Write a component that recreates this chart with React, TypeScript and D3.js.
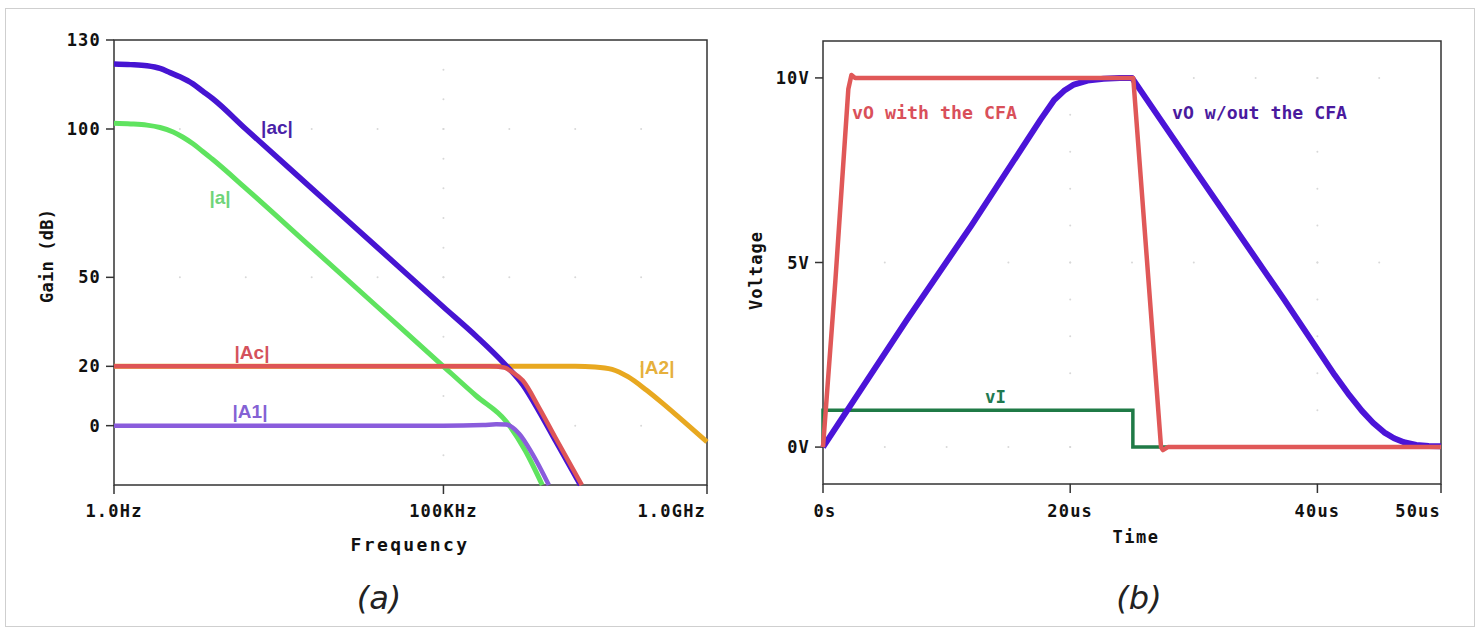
import React, { useRef, useEffect } from "react";
import * as d3 from "d3";

// (a) gain vs frequency, [Hz, dB]
const acPts = [[1, 121.9], [1.8, 121.7], [3.16, 121.3], [5, 120.4], [7.1, 119], [10, 117.6], [15.8, 115.2], [22, 112.8], [31.6, 110.2], [100, 100], [1e3, 80], [1e4, 60], [1e5, 40], [3.2e5, 30], [8.3e5, 21], [1.6e6, 13.8], [2.8e6, 5], [5e6, -5], [1.2e7, -20]];
const aPts = [[1, 101.9], [1.8, 101.7], [3.16, 101.3], [5, 100.5], [7.9, 99], [11, 97.3], [15.8, 95], [22, 92.5], [31.6, 89.7], [100, 80], [1e3, 60], [1e4, 40], [87100, 21.2], [3.16e5, 10], [8.9e5, 1.5], [1.74e6, -8.4], [3.16e6, -20]];
const AcPts = [[1, 20], [1e5, 20], [5e5, 20], [8.3e5, 19.6], [1.12e6, 18], [1.6e6, 15.2], [2.82e6, 6.1], [5e6, -4], [1.26e7, -20]];
const A1Pts = [[1, 0], [1e5, 0], [4e5, 0.2], [6.3e5, 0.5], [8.9e5, 0.4], [1.41e6, -2.7], [2.24e6, -9.5], [3.98e6, -20]];
const A2Pts = [[1, 20], [1e7, 20], [2e7, 19.8], [3.63e7, 19], [6.3e7, 16.5], [1.2e8, 12], [2e8, 8], [3.8e8, 2.7], [1e9, -5.5]];

const gainTicks = [130, 100, 50, 20, 0];
const freqTicks = [1, 1e5, 1e9];
const freqLabels = ["1.0Hz", "100KHz", "1.0GHz"];

// (b) voltage vs time, [us, V]
const vIPts = [[0, 0], [0, 1], [25.07, 1], [25.07, 0], [50, 0]];
const vOcfaPts = [[0, 0], [1, 4.5], [2.05, 9.7], [2.3, 10.08], [2.6, 10], [25.1, 10], [27.35, 0], [27.5, -0.08], [27.9, 0], [50, 0]];
const vOnoPts = [[0, 0], [6.8, 3.45], [12, 6.0], [17.6, 8.87], [18.7, 9.4], [19.5, 9.65], [20.3, 9.82], [21.4, 9.93], [22.7, 9.98], [24, 10], [25, 10], [30, 7.55], [37.3, 4.0], [41.4, 1.95], [42.6, 1.4], [43.6, 0.98], [44.5, 0.66], [45.4, 0.4], [46.2, 0.24], [47, 0.13], [48, 0.06], [49, 0.03], [50, 0.02]];

const voltTicks = [10, 5, 0];
const voltLabels = ["10V", "5V", "0V"];
const timeTicks = [0, 20, 40, 50];
const timeLabels = ["0s", "20us", "40us", "50us"];

const mono = "'DejaVu Sans Mono', monospace";

function App() {
  const svgRef = useRef(null);

  useEffect(() => {
    const svg = d3.select(svgRef.current);
    svg.selectAll("*").remove();

    svg.append("rect").attr("x", 5.5).attr("y", 8.5).attr("width", 1469).attr("height", 618)
      .attr("fill", "white").attr("stroke", "#cfcfcf");

    // ---------- (a) ----------
    const x = d3.scaleLog().domain([1, 1e9]).range([114, 707]);
    const y = d3.scaleLinear().domain([-20, 130]).range([485, 40]);
    const ga = svg.append("g");

    // faint grid dots
    const decs = d3.range(1, 9).map((d) => Math.pow(10, d));
    [100, 50, 20, 0].forEach((g) => decs.forEach((f) =>
      ga.append("circle").attr("cx", x(f)).attr("cy", y(g)).attr("r", 1).attr("fill", "#d8d8d8")));
    d3.range(-10, 130, 10).forEach((g) =>
      ga.append("circle").attr("cx", x(1e5)).attr("cy", y(g)).attr("r", 1).attr("fill", "#d8d8d8"));

    ga.append("rect").attr("x", 114).attr("y", 40).attr("width", 593).attr("height", 445)
      .attr("fill", "none").attr("stroke", "#333").attr("stroke-width", 1.5);

    gainTicks.forEach((t) => {
      ga.append("line").attr("x1", 106).attr("x2", 114).attr("y1", y(t)).attr("y2", y(t)).attr("stroke", "#333").attr("stroke-width", 1.5);
      ga.append("text").attr("x", 101).attr("y", y(t)).attr("dy", "0.36em").attr("text-anchor", "end")
        .attr("font-family", mono).attr("font-weight", "bold").attr("font-size", 17).attr("letter-spacing", 1.2)
        .attr("fill", "#111").text(t);
    });
    freqTicks.forEach((t, i) => {
      ga.append("line").attr("x1", x(t)).attr("x2", x(t)).attr("y1", 485).attr("y2", 494).attr("stroke", "#333").attr("stroke-width", 1.5);
      ga.append("text").attr("x", i === 2 ? 706 : x(t)).attr("y", 511).attr("dy", "0.36em")
        .attr("text-anchor", i === 2 ? "end" : "middle")
        .attr("font-family", mono).attr("font-weight", "bold").attr("font-size", 17).attr("letter-spacing", 1.2)
        .attr("fill", "#111").text(freqLabels[i]);
    });
    ga.append("text").attr("x", 410).attr("y", 545).attr("dy", "0.36em").attr("text-anchor", "middle")
      .attr("font-family", mono).attr("font-weight", "bold").attr("font-size", 18).attr("letter-spacing", 2.4)
      .attr("fill", "#111").text("Frequency");
    ga.append("text").attr("transform", "translate(47,256) rotate(-90)").attr("dy", "0.36em").attr("text-anchor", "middle")
      .attr("font-family", mono).attr("font-weight", "bold").attr("font-size", 17).attr("textLength", 94)
      .attr("fill", "#111").text("Gain (dB)");

    const lineA = d3.line().x((d) => x(d[0])).y((d) => y(d[1])).curve(d3.curveMonotoneX);
    const seriesA = [
      [A2Pts, "#e8a820", 5],
      [aPts, "#5fe35f", 5],
      [A1Pts, "#8a5cdc", 4.5],
      [acPts, "#4614d2", 5.5],
      [AcPts, "#de5556", 4.5],
    ];
    seriesA.forEach(([pts, c, w]) => {
      ga.append("path").attr("d", lineA(pts)).attr("fill", "none").attr("stroke", c)
        .attr("stroke-width", w).attr("stroke-linejoin", "round");
    });

    const labA = [
      ["|ac|", 277, 127, "#4a1fa8"],
      ["|a|", 220, 197, "#6fd479"],
      ["|Ac|", 252, 352, "#d4525c"],
      ["|A1|", 250, 411, "#8462d4"],
      ["|A2|", 657, 367, "#e6b03c"],
    ];
    labA.forEach(([s, lx, ly, c]) => {
      ga.append("text").attr("x", lx).attr("y", ly).attr("dy", "0.36em").attr("text-anchor", "middle")
        .attr("font-family", "'Liberation Sans', Arial, sans-serif").attr("font-weight", "bold")
        .attr("font-size", 19).attr("fill", c).text(s);
    });

    // ---------- (b) ----------
    const x2 = d3.scaleLinear().domain([0, 50]).range([823, 1441]);
    const y2 = d3.scaleLinear().domain([-1, 11]).range([484, 41]);
    const gb = svg.append("g");

    [10, 5, 0].forEach((v) => d3.range(5, 50, 5).forEach((t) =>
      gb.append("circle").attr("cx", x2(t)).attr("cy", y2(v)).attr("r", 1).attr("fill", "#d8d8d8")));
    [20, 40].forEach((t) => d3.range(-1, 11, 1).forEach((v) =>
      gb.append("circle").attr("cx", x2(t)).attr("cy", y2(v)).attr("r", 1).attr("fill", "#d8d8d8")));

    gb.append("rect").attr("x", 823).attr("y", 41).attr("width", 618).attr("height", 443)
      .attr("fill", "none").attr("stroke", "#333").attr("stroke-width", 1.5);

    voltTicks.forEach((t, i) => {
      gb.append("line").attr("x1", 815).attr("x2", 823).attr("y1", y2(t)).attr("y2", y2(t)).attr("stroke", "#333").attr("stroke-width", 1.5);
      gb.append("text").attr("x", 810).attr("y", y2(t)).attr("dy", "0.36em").attr("text-anchor", "end")
        .attr("font-family", mono).attr("font-weight", "bold").attr("font-size", 17).attr("letter-spacing", 1.2)
        .attr("fill", "#111").text(voltLabels[i]);
    });
    timeTicks.forEach((t, i) => {
      gb.append("line").attr("x1", x2(t)).attr("x2", x2(t)).attr("y1", 484).attr("y2", 493).attr("stroke", "#333").attr("stroke-width", 1.5);
      gb.append("text").attr("x", i === 3 ? 1441 : x2(t) + (i === 0 ? 2 : 0)).attr("y", 511).attr("dy", "0.36em")
        .attr("text-anchor", i === 3 ? "end" : "middle")
        .attr("font-family", mono).attr("font-weight", "bold").attr("font-size", 17).attr("letter-spacing", 1.2)
        .attr("fill", "#111").text(timeLabels[i]);
    });
    gb.append("text").attr("x", 1136).attr("y", 537).attr("dy", "0.36em").attr("text-anchor", "middle")
      .attr("font-family", mono).attr("font-weight", "bold").attr("font-size", 17).attr("letter-spacing", 1.5)
      .attr("fill", "#111").text("Time");
    gb.append("text").attr("transform", "translate(756,271) rotate(-90)").attr("dy", "0.36em").attr("text-anchor", "middle")
      .attr("font-family", mono).attr("font-weight", "bold").attr("font-size", 17).attr("textLength", 78)
      .attr("fill", "#111").text("Voltage");

    const lineB = d3.line().x((d) => x2(d[0])).y((d) => y2(d[1]));
    gb.append("path").attr("d", lineB(vIPts)).attr("fill", "none").attr("stroke", "#1f7a46").attr("stroke-width", 3.5);
    gb.append("path").attr("d", lineB(vOnoPts)).attr("fill", "none").attr("stroke", "#4b14d8")
      .attr("stroke-width", 6).attr("stroke-linejoin", "round");
    gb.append("path").attr("d", lineB(vOcfaPts)).attr("fill", "none")
      .attr("stroke", "#e05858").attr("stroke-width", 4.5).attr("stroke-linejoin", "round");

    const labB = [
      ["vO with the CFA", 852, 113, 165, "#d9505a"],
      ["vO w/out the CFA", 1172, 113, 175, "#4a1a9e"],
      ["vI", 985, 397, 21, "#1f7a50"],
    ];
    labB.forEach(([s, lx, ly, len, c]) => {
      gb.append("text").attr("x", lx).attr("y", ly).attr("dy", "0.36em")
        .attr("font-family", mono).attr("font-weight", "bold").attr("font-size", 18)
        .attr("textLength", len).attr("lengthAdjust", "spacingAndGlyphs").attr("fill", c).text(s);
    });

    // captions
    [["(a)", 379], ["(b)", 1139]].forEach(([s, cx]) => {
      svg.append("text").attr("x", cx).attr("y", 609).attr("text-anchor", "middle")
        .attr("font-family", "'DejaVu Sans', sans-serif").attr("font-style", "italic")
        .attr("font-size", 32).attr("fill", "#222").text(s);
    });
  }, []);

  return (
    <div style={{ position: "absolute", left: 0, top: 0 }}>
      <svg ref={svgRef} width={1481} height={634} style={{ display: "block" }}></svg>
    </div>
  );
}

export default App;
